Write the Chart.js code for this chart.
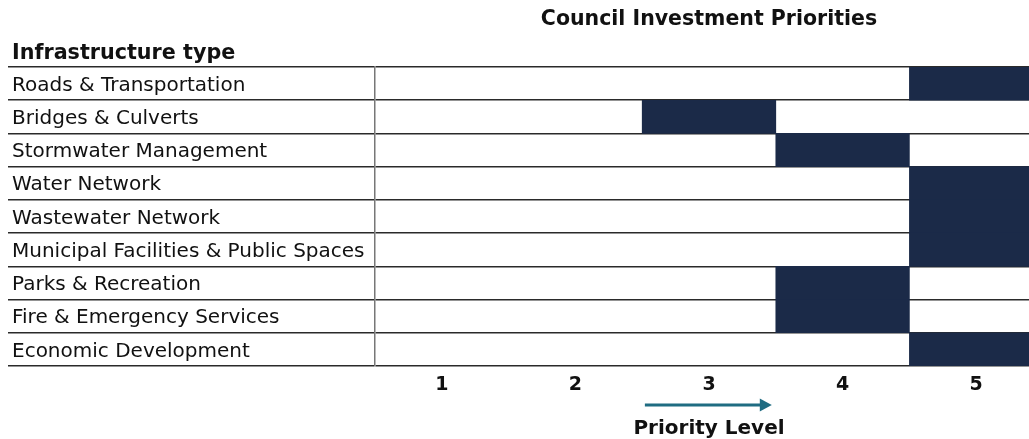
<!DOCTYPE html>
<html>
<head>
<meta charset="utf-8">
<script src="https://cdn.jsdelivr.net/npm/chart.js@4/dist/chart.umd.min.js"></script>
<style>
  html, body { margin: 0; padding: 0; background: #fff; overflow: hidden; }
  #wrap { width: 1043px; height: 439px; }
</style>
</head>
<body>
<div id="wrap"><canvas id="c" width="1043" height="439"></canvas></div>
<script>
// Infrastructure categories (top to bottom)
const categories = [
  'Roads & Transportation',
  'Bridges & Culverts',
  'Stormwater Management',
  'Water Network',
  'Wastewater Network',
  'Municipal Facilities & Public Spaces',
  'Parks & Recreation',
  'Fire & Emergency Services',
  'Economic Development'
];
// Priority level assigned to each category
const priorityLevels = [5, 3, 4, 5, 5, 5, 4, 4, 5];
// Tick labels of the priority scale
const levelTicks = [1, 2, 3, 4, 5];

const chartTitle = 'Council Investment Priorities';
const rowHeader = 'Infrastructure type';
const axisTitle = 'Priority Level';

const FONT = "'DejaVu Sans', Verdana, sans-serif";
const NAVY = '#1b2a48';
const LINE = '#2a2a2a';
const TEAL = '#1f6c82';

// each level occupies one full cell on the scale: [level - 0.5, level + 0.5]
const cells = priorityLevels.map(p => [p - 0.5, p + 0.5]);

const decorations = {
  id: 'decorations',
  afterDraw(chart) {
    const { ctx, chartArea, scales } = chart;
    const xs = scales.x;
    ctx.save();
    ctx.fillStyle = '#111';
    // chart title over the plot columns
    ctx.font = 'bold 20.5px ' + FONT;
    ctx.textAlign = 'center';
    ctx.textBaseline = 'middle';
    ctx.fillText(chartTitle, (chartArea.left + chartArea.right) / 2, 20);
    // header of the category column
    ctx.font = 'bold 20.7px ' + FONT;
    ctx.textAlign = 'left';
    ctx.fillText(rowHeader, 12, 54);
    // direction arrow
    const x0 = xs.getPixelForValue(2.52);
    const x1 = xs.getPixelForValue(3.47);
    const ay = 405;
    ctx.strokeStyle = TEAL;
    ctx.fillStyle = TEAL;
    ctx.lineWidth = 3;
    ctx.beginPath();
    ctx.moveTo(x0, ay);
    ctx.lineTo(x1 - 10, ay);
    ctx.stroke();
    ctx.beginPath();
    ctx.moveTo(x1, ay);
    ctx.lineTo(x1 - 12, ay - 6.5);
    ctx.lineTo(x1 - 12, ay + 6.5);
    ctx.closePath();
    ctx.fill();
    // axis title
    ctx.font = 'bold 20px ' + FONT;
    ctx.fillStyle = '#111';
    ctx.textAlign = 'center';
    ctx.fillText(axisTitle, xs.getPixelForValue(3), 429);
    ctx.restore();
  }
};

new Chart(document.getElementById('c'), {
  type: 'bar',
  data: {
    labels: categories,
    datasets: [{
      data: cells,
      backgroundColor: NAVY,
      borderWidth: 0,
      barPercentage: 1,
      categoryPercentage: 1
    }]
  },
  options: {
    indexAxis: 'y',
    responsive: false,
    animation: false,
    events: [],
    layout: { padding: { top: 67, left: 12, right: 0, bottom: 0 } },
    plugins: { legend: { display: false }, title: { display: false }, tooltip: { enabled: false } },
    scales: {
      x: {
        type: 'linear',
        min: 0.5,
        max: 5.5,
        afterBuildTicks(scale) { scale.ticks = levelTicks.map(v => ({ value: v })); },
        afterFit(scale) { scale.height = 73; },
        grid: { display: false, drawTicks: false },
        border: { display: false },
        ticks: {
          padding: 8,
          color: '#111',
          font: { family: FONT, size: 19, weight: 'bold' }
        }
      },
      y: {
        type: 'category',
        z: 1,
        afterFit(scale) { scale.width = 363; },
        grid: {
          offset: true,
          color: LINE,
          lineWidth: 1.6,
          drawTicks: true,
          tickLength: 367,
          tickColor: LINE,
          tickWidth: 1.6
        },
        border: { display: true, color: '#777', width: 1.5 },
        ticks: {
          autoSkip: false,
          crossAlign: 'far',
          padding: 0,
          labelOffset: 2,
          color: '#111',
          font: { family: FONT, size: 20 }
        }
      }
    }
  },
  plugins: [decorations]
});
</script>
</body>
</html>
